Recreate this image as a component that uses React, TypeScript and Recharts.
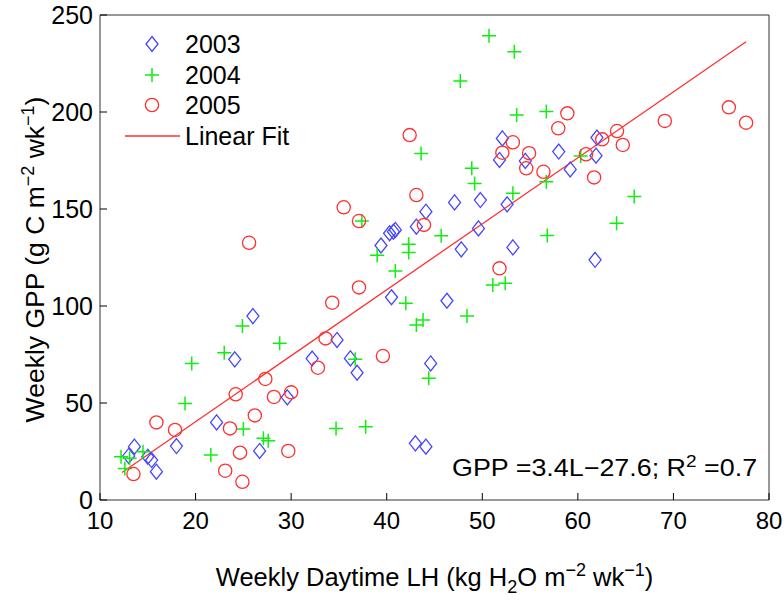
import { ScatterChart, Scatter, XAxis, YAxis, Legend, Label } from "recharts";

const FONT = "'Liberation Sans', Arial, Helvetica, sans-serif";
const TICK_LEN = 7;

const xTicks = [10, 20, 30, 40, 50, 60, 70, 80];
const yTicks = [0, 50, 100, 150, 200, 250];

// weekly daytime LH (x) and weekly GPP (y)
const lh2003 = [13.6, 13.0, 15.0, 15.4, 15.9, 18.0, 22.2, 24.1, 26.0, 26.7, 29.6, 32.2, 34.8, 36.2, 36.9, 39.4, 40.3, 40.7, 40.9, 40.5, 43.1, 44.1, 43.0, 44.1, 44.6, 46.3, 47.1, 47.8, 49.6, 49.8, 51.8, 52.1, 52.6, 53.2, 54.5, 58.0, 59.2, 61.9, 62.0, 61.8];
const gpp2003 = [27.5, 22.7, 22.3, 20.6, 14.6, 27.8, 40.0, 72.5, 94.8, 25.3, 52.9, 72.9, 82.5, 73.0, 65.6, 131.2, 137.5, 138.3, 139.2, 104.5, 140.9, 148.6, 29.2, 27.5, 70.4, 102.7, 153.4, 129.2, 140.0, 154.6, 175.3, 186.4, 152.4, 130.2, 174.8, 179.6, 170.4, 177.5, 186.8, 123.8];

const lh2004 = [12.2, 13.1, 12.6, 14.5, 18.9, 19.6, 21.6, 23.0, 24.9, 25.0, 27.1, 27.6, 28.8, 34.7, 36.7, 37.4, 37.8, 39.0, 40.9, 42.0, 42.3, 42.3, 43.1, 43.8, 43.6, 44.4, 45.7, 47.7, 48.4, 48.9, 49.2, 50.7, 51.1, 52.4, 53.2, 53.35, 53.6, 56.7, 56.7, 56.8, 60.3, 64.05, 65.9];
const gpp2004 = [22.3, 21.5, 16.3, 24.9, 49.8, 70.3, 23.2, 75.9, 89.7, 36.6, 31.8, 30.6, 80.8, 36.9, 72.6, 143.8, 37.8, 126.2, 118.0, 101.4, 131.8, 127.6, 90.2, 92.8, 178.6, 62.7, 136.2, 216.0, 94.8, 171.0, 163.2, 239.3, 110.8, 111.7, 158.1, 231.1, 198.5, 200.3, 164.1, 136.3, 177.3, 142.6, 156.4];

const lh2005 = [13.5, 15.9, 17.85, 23.1, 23.6, 24.2, 24.65, 24.9, 25.6, 26.2, 27.3, 28.2, 29.7, 30.0, 32.8, 33.6, 34.3, 35.5, 37.1, 37.1, 39.6, 42.4, 43.1, 43.9, 51.8, 52.1, 53.2, 54.6, 54.9, 56.4, 57.95, 58.9, 60.85, 61.7, 62.55, 64.1, 64.7, 69.1, 75.8, 77.6];
const gpp2005 = [13.4, 40.0, 36.1, 15.1, 36.9, 54.5, 24.4, 9.4, 132.6, 43.6, 62.4, 53.1, 25.3, 55.5, 68.2, 83.3, 101.7, 150.9, 143.8, 109.6, 74.2, 188.1, 157.2, 141.8, 119.4, 179.0, 184.4, 171.0, 178.8, 169.2, 191.6, 199.3, 178.2, 166.3, 185.9, 190.2, 183.0, 195.4, 202.4, 194.5];

// GPP = 3.4L - 27.6, endpoints as drawn
const fitLh = [12.3, 77.6];
const fitGpp = [14.2, 236.2];

const legendItems = ["2003", "2004", "2005", "Linear Fit"];

const toPoints = (xs: number[], ys: number[]) => xs.map((lh, i) => ({ lh, gpp: ys[i] }));

const BLUE = "#4646ff";
const GREEN = "#11ee11";
const RED = "#ff3030";

function Diamond({ cx, cy }: any) {
  return (
    <polygon
      points={`${cx},${cy - 7.5} ${cx + 6},${cy} ${cx},${cy + 7.5} ${cx - 6},${cy}`}
      fill="none"
      stroke={BLUE}
      strokeWidth={1.3}
    />
  );
}

function Plus({ cx, cy }: any) {
  return (
    <path d={`M${cx - 7},${cy}H${cx + 7}M${cx},${cy - 7}V${cy + 7}`} stroke={GREEN} strokeWidth={1.5} fill="none" />
  );
}

function Ring({ cx, cy }: any) {
  return <circle cx={cx} cy={cy} r={6.6} fill="none" stroke={RED} strokeWidth={1.3} />;
}

function BottomTick({ x, y, payload }: any) {
  return (
    <g>
      <line x1={x} y1={y} x2={x} y2={y - TICK_LEN} stroke="#000" />
      <text x={x} y={y + 29} textAnchor="middle" fontSize={24} fontFamily={FONT} fill="#000">
        {payload.value}
      </text>
    </g>
  );
}

function TopTick({ x, y }: any) {
  return <line x1={x} y1={y} x2={x} y2={y + TICK_LEN} stroke="#000" />;
}

function LeftTick({ x, y, payload }: any) {
  return (
    <g>
      <line x1={x} y1={y} x2={x + TICK_LEN} y2={y} stroke="#000" />
      <text x={x - 7} y={y + 8.5} textAnchor="end" fontSize={25} fontFamily={FONT} fill="#000">
        {payload.value}
      </text>
    </g>
  );
}

function RightTick({ x, y }: any) {
  return <line x1={x} y1={y} x2={x - TICK_LEN} y2={y} stroke="#000" />;
}

function XTitle({ viewBox }: any) {
  const cx = viewBox.x + viewBox.width / 2;
  return (
    <text x={cx} y={586} textAnchor="middle" fontSize={25.5} fontFamily={FONT} fill="#000">
      Weekly Daytime LH (kg H
      <tspan dy={7} fontSize={18}>2</tspan>
      <tspan dy={-7}>O m</tspan>
      <tspan dy={-10} fontSize={18}>−2</tspan>
      <tspan dy={10}> wk</tspan>
      <tspan dy={-10} fontSize={18}>−1</tspan>
      <tspan dy={10}>)</tspan>
    </text>
  );
}

function YTitle({ viewBox }: any) {
  const cy = viewBox.y + viewBox.height / 2 + 2;
  const bx = 44;
  return (
    <text x={bx} y={cy} transform={`rotate(-90, ${bx}, ${cy})`} textAnchor="middle" fontSize={26.5} fontFamily={FONT} fill="#000">
      Weekly GPP (g C m
      <tspan dy={-10} fontSize={18}>−2</tspan>
      <tspan dy={10}> wk</tspan>
      <tspan dy={-10} fontSize={18}>−1</tspan>
      <tspan dy={10}>)</tspan>
    </text>
  );
}

function LegendBox() {
  const rows = [19, 50, 80, 111];
  return (
    <svg width={200} height={130} style={{ display: "block" }}>
      <Diamond cx={42} cy={rows[0]} />
      <Plus cx={42} cy={rows[1]} />
      <Ring cx={42} cy={rows[2]} />
      <line x1={15} y1={rows[3]} x2={70} y2={rows[3]} stroke={RED} strokeWidth={1.3} />
      {legendItems.map((t, i) => (
        <text key={t} x={75} y={rows[i] + 9} fontSize={25} fontFamily={FONT} fill="#000">
          {t}
        </text>
      ))}
    </svg>
  );
}

export default function App() {
  return (
    <div style={{ position: "absolute", left: 0, top: 0, width: 784, height: 605, background: "#fff" }}>
      <ScatterChart width={784} height={605} margin={{ top: 5, right: 5, bottom: 65, left: 40 }}>
        <XAxis
          dataKey="lh"
          type="number"
          domain={[10, 80]}
          ticks={xTicks}
          tick={<BottomTick />}
          tickLine={false}
          tickSize={0}
          tickMargin={0}
          height={40}
          axisLine={{ stroke: "#333" }}
        >
          <Label content={<XTitle />} />
        </XAxis>
        <XAxis
          xAxisId="top"
          orientation="top"
          type="number"
          domain={[10, 80]}
          ticks={xTicks}
          tick={<TopTick />}
          tickLine={false}
          tickSize={0}
          tickMargin={0}
          height={10}
          axisLine={{ stroke: "#333" }}
        />
        <YAxis
          dataKey="gpp"
          type="number"
          domain={[0, 250]}
          ticks={yTicks}
          tick={<LeftTick />}
          tickLine={false}
          tickSize={0}
          tickMargin={0}
          width={60}
          axisLine={{ stroke: "#333" }}
        >
          <Label content={<YTitle />} />
        </YAxis>
        <YAxis
          yAxisId="right"
          orientation="right"
          type="number"
          domain={[0, 250]}
          ticks={yTicks}
          tick={<RightTick />}
          tickLine={false}
          tickSize={0}
          tickMargin={0}
          width={10}
          axisLine={{ stroke: "#333" }}
        />
        <Legend
          layout="vertical"
          align="center"
          verticalAlign="middle"
          content={<LegendBox />}
          wrapperStyle={{ left: 110, top: 25, width: 200, height: 130 }}
        />
        <Scatter name="Linear Fit" data={toPoints(fitLh, fitGpp)} line={{ stroke: RED, strokeWidth: 1.3 }} shape={() => <g />} isAnimationActive={false} />
        <Scatter name="2003" data={toPoints(lh2003, gpp2003)} shape={(p: any) => <Diamond {...p} />} isAnimationActive={false} />
        <Scatter name="2004" data={toPoints(lh2004, gpp2004)} shape={(p: any) => <Plus {...p} />} isAnimationActive={false} />
        <Scatter name="2005" data={toPoints(lh2005, gpp2005)} shape={(p: any) => <Ring {...p} />} isAnimationActive={false} />
      </ScatterChart>
      <svg width={784} height={605} style={{ position: "absolute", left: 0, top: 0, pointerEvents: "none" }}>
        <g transform="translate(452,476) scale(1.12,1)">
          <text x={0} y={0} fontSize={24} fontFamily={FONT} fill="#000">
            GPP =3.4L−27.6; R
            <tspan dy={-9} fontSize={17}>2</tspan>
            <tspan dy={9}> =0.7</tspan>
          </text>
        </g>
      </svg>
    </div>
  );
}
